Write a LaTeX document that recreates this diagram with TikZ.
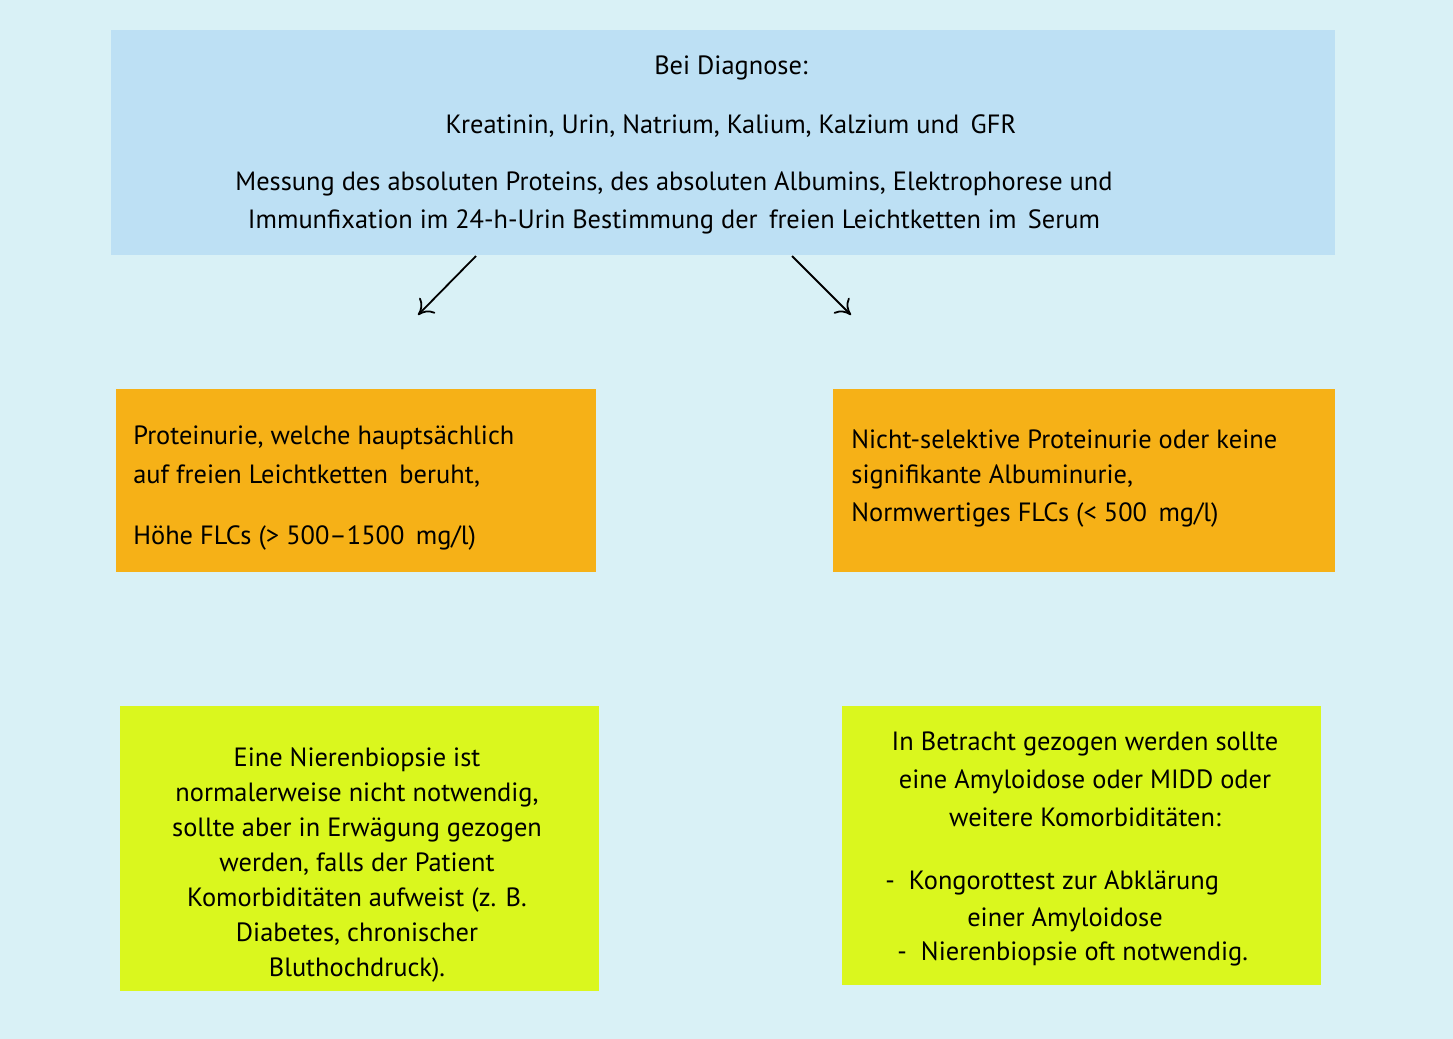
\documentclass[tikz,border=0pt]{standalone}
\usepackage{fontspec}
\setmainfont{PT Sans}
\usetikzlibrary{arrows.meta}
\definecolor{bgc}{HTML}{D9F1F6}
\definecolor{topc}{HTML}{BDE0F4}
\definecolor{orc}{HTML}{F6B117}
\definecolor{ylc}{HTML}{DAF71E}
\tikzset{
 box/.style={draw=none},
 txt/.style={inner sep=0pt,font=\fontsize{13.2pt}{17.5pt}\selectfont},
 arr/.style={-{To[length=7pt,width=11pt]},line width=0.9pt}
}
\begin{document}
\begin{tikzpicture}[x=0.5pt,y=-0.5pt]
\fill[bgc] (0,0) rectangle (1453,1039);
\useasboundingbox (0,0) rectangle (1453,1039);
\fill[topc] (111,30) rectangle (1335,255);
\fill[orc] (116,389) rectangle (596,572);
\fill[orc] (833,389) rectangle (1335,572);
\fill[ylc] (120,706) rectangle (599,991);
\fill[ylc] (842,706) rectangle (1321,985);
\node[txt] (t1) at (731,68) {Bei Diagnose:};
\node[txt] (t2) at (731,126) {Kreatinin, Urin, Natrium, Kalium, Kalzium und\, GFR};
\node[txt] (t3) at (674,184) {Messung des absoluten Proteins, des absoluten Albumins, Elektrophorese und};
\node[txt] (t4) at (674,222) {Immunfixation im 24-h-Urin Bestimmung der\, freien Leichtketten im\, Serum};
\coordinate (a1s) at (476,256); \coordinate (a1e) at (418,315);
\coordinate (a2s) at (792,256); \coordinate (a2e) at (851,315);
\draw[arr] (a1s) -- (a1e);
\draw[arr] (a2s) -- (a2e);
\node[txt,anchor=west] (l1) at (133,438) {Proteinurie, welche hauptsächlich};
\node[txt,anchor=west] (l2) at (133,476) {auf freien Leichtketten\, beruht,};
\node[txt,anchor=west] (l3) at (133,538) {Höhe FLCs (> 500–1500\, mg/l)};
\node[txt,anchor=west] (r1) at (851,439) {Nicht-selektive Proteinurie oder keine};
\node[txt,anchor=west] (r2) at (851,477) {signifikante Albuminurie,};
\node[txt,anchor=west] (r3) at (851,515) {Normwertiges FLCs (< 500\, mg/l)};
\node[txt,align=center] (yl) at (357,865) {Eine Nierenbiopsie ist\\normalerweise nicht notwendig,\\sollte aber in Erwägung gezogen\\werden, falls der Patient\\Komorbiditäten aufweist (z. B.\\Diabetes, chronischer\\Bluthochdruck).};
\node[txt,align=center,font=\fontsize{13.2pt}{19pt}\selectfont] (yr) at (1085,779) {In Betracht gezogen werden sollte\\eine Amyloidose oder MIDD oder\\weitere Komorbiditäten:};
\node[txt,anchor=west] (b1) at (885,883) {-\ \ Kongorottest zur Abklärung};
\node[txt] (b2) at (1065,920) {einer Amyloidose};
\node[txt,anchor=west] (b3) at (897,954) {-\ \ Nierenbiopsie oft notwendig.};
\end{tikzpicture}
\end{document}
